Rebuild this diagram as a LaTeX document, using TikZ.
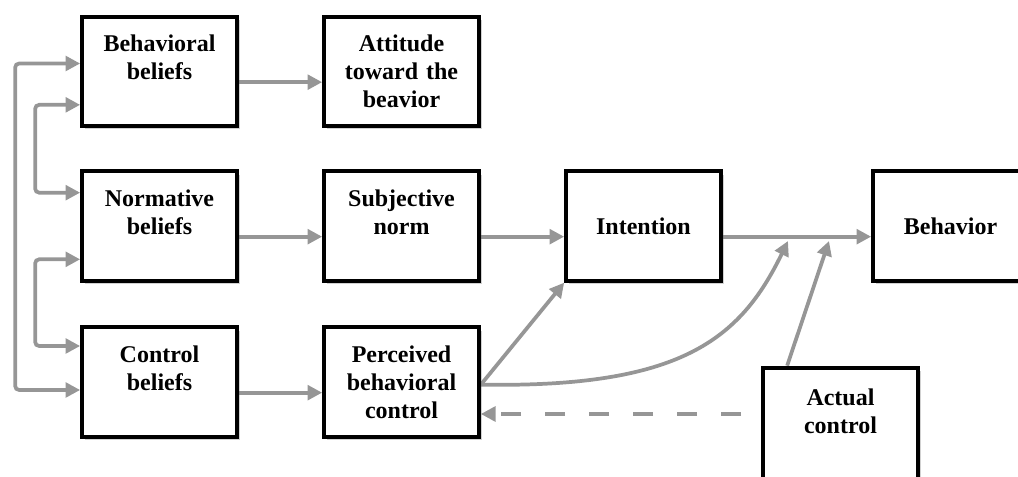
\documentclass[tikz,border=0pt]{standalone}
\usepackage{fontspec}
\setmainfont{Liberation Serif}
\usepackage{tikz}
\usetikzlibrary{arrows.meta,backgrounds,shadows}

\definecolor{linkgray}{RGB}{150,150,150}

\begin{document}
\begin{tikzpicture}[x=0.75pt,y=-0.75pt,
  tpbbox/.style={draw=black,line width=3pt,fill=white,minimum width=116pt,minimum height=82pt,
    inner sep=2pt,text width=110pt,align=center,font=\fontsize{18}{21}\selectfont\bfseries,
    drop shadow={shadow xshift=2pt,shadow yshift=-2.5pt,opacity=0.3,fill=black!60}},
  link/.style={color=linkgray,line width=2.8pt,-{Triangle[length=11pt,width=11pt]}},
  twolink/.style={link,{Triangle[length=11pt,width=11pt]}-{Triangle[length=11pt,width=11pt]},rounded corners=3pt},
  dashlink/.style={link,dash pattern=on 15pt off 18pt,shorten <=15pt}]
\useasboundingbox (0,0) rectangle (1018,477);

% Belief boxes
\node[tpbbox] (behbel) at (159.5,71.5) {Behavioral\\beliefs\\\mbox{}};
\node[tpbbox] (normbel) at (159.5,226) {Normative\\beliefs\\\mbox{}};
\node[tpbbox] (ctlbel) at (159.5,382) {Control\\beliefs\\\mbox{}};

% Attitude, norm, control
\node[tpbbox] (attitude) at (401.5,71.5) {Attitude\\toward the\\beavior};
\node[tpbbox] (subnorm) at (401.5,226) {Subjective\\norm\\\mbox{}};
\node[tpbbox] (percctl) at (401.5,382) {Perceived\\behavioral\\control};

% Intention and behavior
\node[tpbbox] (intent) at (643.5,226) {Intention};
\node[tpbbox] (behav) at (950.5,226) {Behavior};
\node[tpbbox,minimum height=86pt] (actual) at (840.5,425) {Actual\\control\\\mbox{}};

\coordinate (joinA) at (788,241);
\coordinate (joinB) at (829,241);

\begin{pgfonlayer}{background}
% Links between beliefs
\draw[twolink] ([yshift=6pt]behbel.west) -- ++(-65,0) |- ([yshift=-6pt]ctlbel.west);
\draw[twolink] ([yshift=-25pt]behbel.west) -- ++(-45,0) |- ([yshift=25pt]normbel.west);
\draw[twolink] ([yshift=-25pt]normbel.west) -- ++(-45,0) |- ([yshift=27pt]ctlbel.west);

% Forward paths
\draw[link] ([yshift=-8pt]behbel.east) -- ([yshift=-8pt]attitude.west);
\draw[link] ([yshift=-8pt]normbel.east) -- ([yshift=-8pt]subnorm.west);
\draw[link] ([yshift=-8pt]ctlbel.east) -- ([yshift=-8pt]percctl.west);
\draw[link] ([yshift=-8pt]subnorm.east) -- ([yshift=-8pt]intent.west);
\draw[link] ([yshift=-8pt]intent.east) -- ([yshift=-8pt]behav.west);

% Perceived control paths
\draw[link] ([yshift=-2pt]percctl.east) -- (intent.south west);
\draw[link] ([yshift=-2pt]percctl.east) .. controls (680,388) and (740,340) .. (joinA);
\draw[link] ([xshift=-40pt]actual.north) -- (joinB);
\draw[dashlink] ([yshift=8.25pt]actual.west) -- ([yshift=-24pt]percctl.east);
\end{pgfonlayer}
\end{tikzpicture}
\end{document}
